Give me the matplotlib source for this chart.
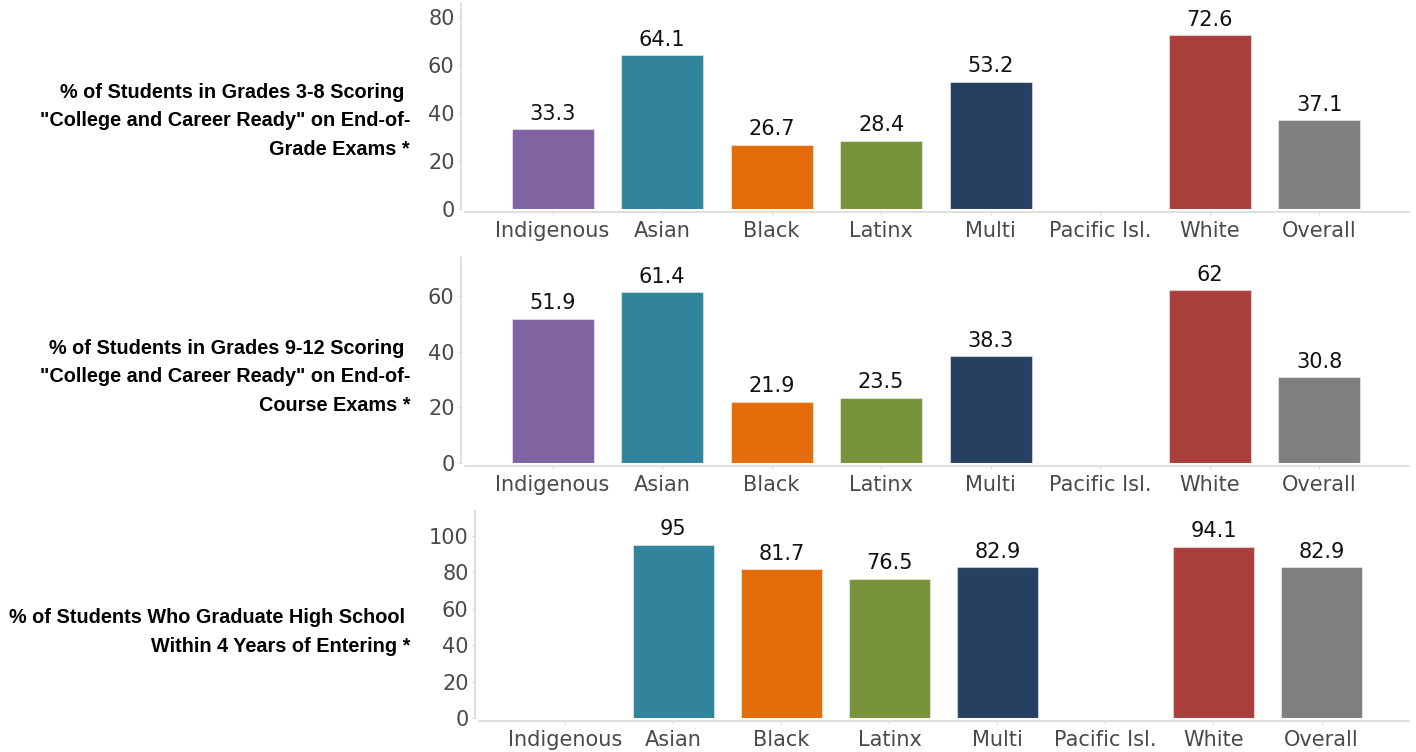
import matplotlib
matplotlib.use("Agg")
import matplotlib.pyplot as plt
from matplotlib import font_manager
import numpy as np

plt.rcParams["font.family"] = ["DejaVu Sans"]
plt.rcParams["font.sans-serif"] = ["DejaVu Sans"]

groups = ["Indigenous", "Asian", "Black", "Latinx", "Multi", "Pacific Isl.", "White", "Overall"]
colors = ["#8064A2", "#31849B", "#E46C0A", "#77933C", "#254061", "#4BACC6", "#A83F3A", "#7F7F7F"]

eog_ready = [33.3, 64.1, 26.7, 28.4, 53.2, None, 72.6, 37.1]
eoc_ready = [51.9, 61.4, 21.9, 23.5, 38.3, None, 62, 30.8]
grad_rate = [None, 95, 81.7, 76.5, 82.9, None, 94.1, 82.9]

titles = [
    "% of Students in Grades 3-8 Scoring \n\"College and Career Ready\" on End-of-\nGrade Exams *",
    "% of Students in Grades 9-12 Scoring \n\"College and Career Ready\" on End-of-\nCourse Exams *",
    "% of Students Who Graduate High School \nWithin 4 Years of Entering *",
]

W, H = 1416, 752
fig = plt.figure(figsize=(W / 100, H / 100), dpi=100)

# panel boxes in pixels: left, right, zero line, top, ymax, tick step, xlim, label centre
panels = [
    (eog_ready, 465, 1409, 209, 3, 86, 80, (-0.80, 7.82), 121),
    (eoc_ready, 465, 1409, 463, 257, 74, 60, (-0.80, 7.82), 377),
    (grad_rate, 479, 1409, 718, 511, 113.7, 100, (-0.80, 7.81), 632),
]

grid_col = "#d9d9d9"
x = np.arange(len(groups))
tick_font = font_manager.FontProperties(family="DejaVu Sans", size=15)

for (vals, l, r, y0, yt, ymax, ytop_tick, xl, lab_y), title in zip(panels, titles):
    ax = fig.add_axes([l / W, 1 - y0 / H, (r - l) / W, (y0 - yt) / H])
    v = np.array([np.nan if a is None else a for a in vals], dtype=float)
    ax.bar(x, np.nan_to_num(v), width=0.75, color=colors,
           edgecolor=(1, 1, 1, 0.45), linewidth=0.8)
    for xi, val in zip(x, vals):
        if val is None:
            continue
        ax.annotate(f"{val:g}", (xi, val), xytext=(0, 4), textcoords="offset points",
                    ha="center", va="bottom", fontproperties=tick_font, color="#111111")
    ax.set_xlim(*xl)
    ax.set_ylim(0, ymax)
    ax.set_yticks(np.arange(0, ytop_tick + 1, 20))
    ax.set_xticks(x)
    ax.set_xticklabels(groups)
    for s in ["top", "right"]:
        ax.spines[s].set_visible(False)
    ax.spines["left"].set_position(("outward", 3))
    ax.spines["bottom"].set_position(("outward", 2.2))
    for s in ["left", "bottom"]:
        ax.spines[s].set_color(grid_col)
        ax.spines[s].set_linewidth(1.2)
    ax.tick_params(axis="both", colors=grid_col, labelcolor="#4a4a4a",
                   length=2.5, width=0.8)
    ax.tick_params(axis="x", pad=4)
    ax.tick_params(axis="y", pad=2)
    for lbl in ax.get_xticklabels() + ax.get_yticklabels():
        lbl.set_fontproperties(tick_font)
    fig.text(410 / W, 1 - lab_y / H, title, ha="right", va="center",
             fontsize=14.3, fontweight="bold", family="Liberation Sans",
             linespacing=1.65, color="#000000")

fig.savefig("out.png", dpi=100)
